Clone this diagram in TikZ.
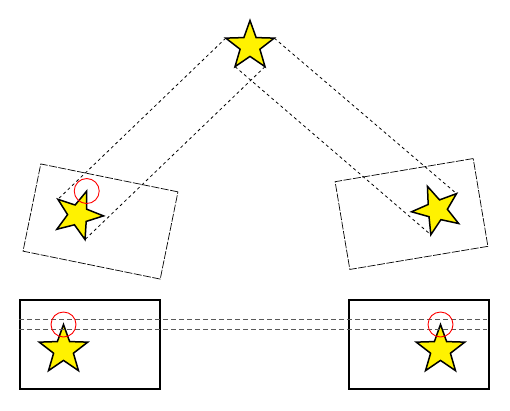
\documentclass[tikz,border=0pt]{standalone}
\usepackage{tikz}
\usetikzlibrary{shapes.geometric}
\begin{document}
\begin{tikzpicture}[x=1pt,y=-1pt,
  starnode/.style={star,star points=5,star point ratio=2.45,minimum size=51pt,inner sep=0pt,outer sep=0pt,draw,line width=1.5pt,fill=yellow},
  frame/.style={draw,line width=1.7pt,minimum width=140pt,minimum height=89pt,inner sep=0pt},
  tiltframe/.style={draw,line width=0.7pt,dash pattern=on 8pt off 1.5pt,minimum width=140pt,minimum height=89pt,inner sep=0pt},
  ray/.style={line width=0.8pt,dash pattern=on 3pt off 3pt},
  level/.style={gray!70!black,line width=1pt,dash pattern=on 5pt off 3pt},
  tip/.style={red,line width=0.9pt}]
\useasboundingbox (0,0) rectangle (510,410);

% Rotated frames
\node[tiltframe,rotate=-11.5] (lframe) at (100.5,221.5) {};
\node[tiltframe,rotate=9.5] (rframe) at (411.5,214) {};

% Stars
\node[starnode] (top) at (250,46) {};
\node[starnode,rotate=-20] (lstar) at (78,215) {};
\node[starnode,rotate=22] (rstar) at (437,210) {};

% Projection rays
\draw[ray] (top.outer point 2) -- (lstar.outer point 2);
\draw[ray] (top.outer point 4) -- (lstar.outer point 4);
\draw[ray] (top.outer point 3) -- (rstar.outer point 3);
\draw[ray] (top.outer point 5) -- (rstar.outer point 5);
\draw[tip] (lstar.outer point 1) circle (12.5pt);

% Aligned frames
\begin{scope}
\node[frame] (bframe) at (90,344.5) {};
\node[frame] (cframe) at (419,344.5) {};
\node[starnode] (bstar) at (63.5,350) {};
\node[starnode] (cstar) at (440.5,350) {};
\foreach \dy in {5,-5}
{
    \draw[level] ([yshift=\dy pt]bframe.west |- bstar.outer point 1) -- ([yshift=\dy pt,xshift=-3pt]cframe.east |- bstar.outer point 1);
}
\draw[tip] (bstar.outer point 1) circle (12.5pt);
\draw[tip] (cstar.outer point 1) circle (12.5pt);
\end{scope}
\end{tikzpicture}
\end{document}
